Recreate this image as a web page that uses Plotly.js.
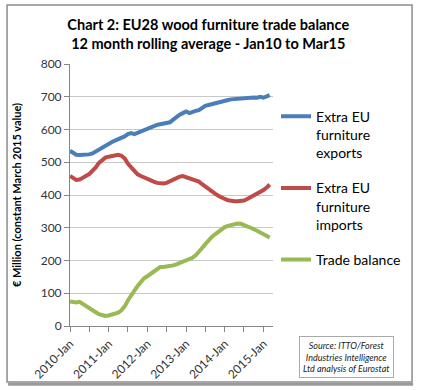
<!DOCTYPE html>
<html>
<head>
<meta charset="utf-8">
<script src="https://cdn.plot.ly/plotly-3.0.1.min.js"></script>
<style>html,body{margin:0;padding:0;background:#fff;}#chart{width:425px;height:390px;}</style>
</head>
<body>
<div id="chart"></div>
<script>
// Monthly 12-month rolling averages, Jan 2010 .. Mar 2015 (63 months), € million
var startMonth = '2010-01';
var monthCount = 63;
var exportsEU = [535,527,523,522,522,523,524,527,533,540,547,552,557,562,566,570,574,579,586,589,586,590,595,600,603,607,611,614,616,618,620,622,630,639,645,650,655,650,654,657,659,666,672,675,678,680,682,685,688,690,692,693,695,696,697,697,698,698,697,700,697,702,705];
var importsEU = [458,452,446,447,452,458,464,474,484,498,507,514,517,519,521,523,520,512,496,485,471,463,458,453,449,446,441,437,435,435,437,442,448,453,456,458,455,450,447,444,441,433,425,418,411,404,398,392,388,384,382,381,381,382,383,388,393,398,404,409,415,423,432];
var tradeBalance = [75,73,72,74,67,60,55,48,42,36,33,31,32,35,38,41,48,60,78,95,108,122,135,146,152,160,168,176,180,180,181,182,185,188,192,194,198,202,208,216,225,238,250,262,272,280,288,297,302,306,309,311,313,312,309,305,300,296,291,287,281,275,270];
var seriesNames = ['Extra EU<br>furniture<br>exports', 'Extra EU<br>furniture<br>imports', 'Trade balance'];
var seriesColors = ['#4A7EBB', '#BE4B48', '#98B954'];
var yTicks = [0,100,200,300,400,500,600,700,800];
var xTickVals = ['2010-01-01','2011-01-01','2012-01-01','2013-01-01','2014-01-01','2015-01-01'];
var xTickText = ['2010-Jan','2011-Jan','2012-Jan','2013-Jan','2014-Jan','2015-Jan'];

var months = [];
for (var i = 0; i < monthCount; i++) {
  var y = 2010 + Math.floor(i / 12), m = (i % 12) + 1;
  months.push(y + '-' + (m < 10 ? '0' + m : m) + '-01');
}

var data = [exportsEU, importsEU, tradeBalance].map(function (vals, k) {
  return {
    x: months, y: vals, type: 'scatter', mode: 'lines',
    name: seriesNames[k], legendgroup: 'g' + k,
    line: {color: seriesColors[k], width: 4}
  };
});

var FONT = 'Lato, "Open Sans", sans-serif';
var layout = {
  width: 425, height: 390,
  margin: {l: 70, r: 152, t: 64, b: 64},
  paper_bgcolor: '#fff', plot_bgcolor: '#fff',
  font: {family: FONT, color: '#333', size: 12},
  title: {
    text: 'Chart 2: EU28 wood furniture trade balance<br>12 month rolling average - Jan10 to Mar15',
    font: {family: FONT, size: 14.5, color: '#000', weight: 'bold'},
    xref: 'container', x: 0.49, yref: 'container', y: 0.922, yanchor: 'top'
  },
  xaxis: {
    type: 'date', range: ['2010-01-01', '2015-04-01'],
    tickmode: 'array', tickvals: xTickVals, ticktext: xTickText,
    tickangle: -45, ticks: 'outside', ticklen: 5, tickcolor: '#868686',
    minor: {dtick: 'M6', tick0: '2010-07-01', ticks: 'outside', ticklen: 5, tickcolor: '#868686', showgrid: false},
    showline: true, linecolor: '#868686', linewidth: 1,
    showgrid: false, zeroline: false,
    tickfont: {family: FONT, size: 12, color: '#333'}
  },
  yaxis: {
    range: [0, 800], tickvals: yTicks,
    ticks: 'outside', ticklen: 5, tickcolor: '#868686',
    showline: true, linecolor: '#868686', linewidth: 1,
    showgrid: true, gridcolor: '#C8C8C8', gridwidth: 1, zeroline: false,
    tickfont: {family: FONT, size: 12, color: '#333'},
    title: {text: '€ Million (constant March 2015 value)', font: {family: FONT, size: 11, color: '#000', weight: 'bold'}, standoff: 16}
  },
  showlegend: true,
  legend: {
    x: 1.015, xanchor: 'left', y: 0.86, yanchor: 'top',
    font: {family: FONT, size: 14, color: '#000'},
    valign: 'top', traceorder: 'grouped', tracegroupgap: 14,
    bgcolor: 'rgba(0,0,0,0)', borderwidth: 0
  },
  shapes: [
    {type: 'rect', xref: 'paper', yref: 'paper', x0: -0.310, x1: 1.685, y0: -0.214, y1: 1.225,
     line: {color: '#8C8C8C', width: 1.5}, fillcolor: 'rgba(0,0,0,0)'},
    {type: 'line', xref: 'paper', yref: 'paper', x0: -0.305, x1: 1.69, y0: -0.222, y1: -0.222,
     line: {color: '#9A9A9A', width: 3}}
  ],
  annotations: [
    {xref: 'paper', yref: 'paper', x: 1.36, y: -0.117, xanchor: 'center', yanchor: 'middle',
     text: '<i>Source: ITTO/Forest<br>Industries Intelligence<br>Ltd analysis of Eurostat</i>',
     showarrow: false, align: 'center',
     font: {family: FONT, size: 9, color: '#222'},
     bordercolor: '#AAAAAA', borderwidth: 1, borderpad: 3, bgcolor: '#fff'}
  ]
};

Plotly.newPlot('chart', data, layout, {displayModeBar: false, staticPlot: true});
</script>
</body>
</html>
